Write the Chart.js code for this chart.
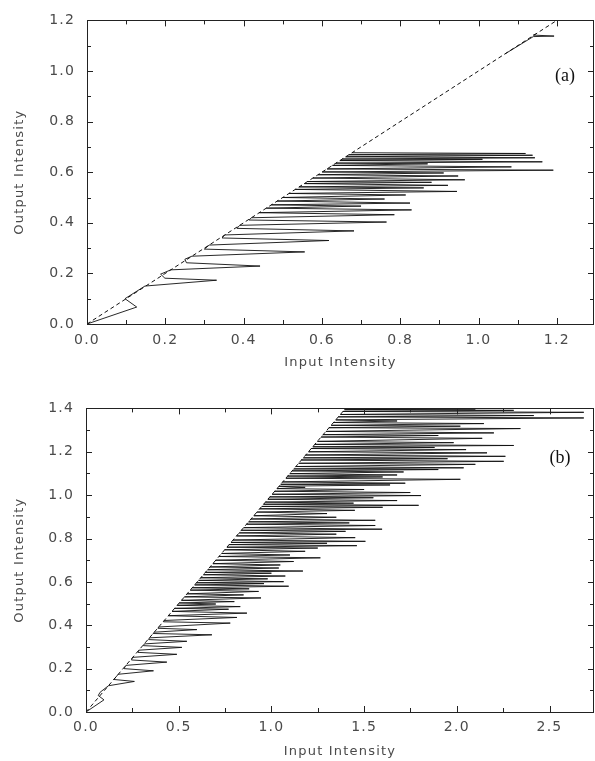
<!DOCTYPE html>
<html>
<head>
<meta charset="utf-8">
<script src="https://cdn.jsdelivr.net/npm/chart.js@4.4.1/dist/chart.umd.min.js"></script>
<style>
  html, body { margin: 0; padding: 0; background: #fff; }
  body { width: 595px; height: 761px; position: relative; overflow: hidden; }
  .panel { position: absolute; left: 0; width: 595px; }
  canvas { display: block; }
</style>
</head>
<body>
<div class="panel" style="top:0px;height:380px;"><canvas id="chartA" width="595" height="380"></canvas></div>
<div class="panel" style="top:388px;height:373px;"><canvas id="chartB" width="595" height="373"></canvas></div>
<script>
// ---------------- Panel (a) data ----------------
const inputA = [
  0, 0.127, 0.097, 0.148,
  0.331, 0.199, 0.188, 0.214,
  0.442, 0.254, 0.250, 0.268,
  0.556, 0.300, 0.312,
  0.618, 0.345, 0.352,
  0.682, 0.383, 0.390,
  0.765, 0.414, 0.420,
  0.785, 0.440, 0.829, 0.458, 0.700, 0.471, 0.825, 0.486,
  0.760, 0.500, 0.814, 0.516, 0.945, 0.532, 0.860, 0.542,
  0.922, 0.555, 0.880, 0.563, 0.965, 0.577, 0.948, 0.590,
  0.911, 0.601, 1.191, 0.613, 1.084, 0.627, 0.870, 0.636,
  1.163, 0.646, 1.010, 0.652, 1.144, 0.661, 1.138, 0.669,
  1.120, 0.677];
const outputA = [
  0, 0.067, 0.100, 0.150,
  0.173, 0.181, 0.197, 0.214,
  0.229, 0.242, 0.256, 0.268,
  0.285, 0.296, 0.312,
  0.330, 0.340, 0.352,
  0.368, 0.378, 0.390,
  0.403, 0.411, 0.420,
  0.432, 0.440, 0.451, 0.458, 0.466, 0.471, 0.478, 0.486,
  0.494, 0.500, 0.510, 0.516, 0.524, 0.532, 0.538, 0.542,
  0.548, 0.555, 0.560, 0.563, 0.570, 0.577, 0.585, 0.590,
  0.597, 0.601, 0.608, 0.613, 0.621, 0.627, 0.633, 0.636,
  0.641, 0.646, 0.651, 0.652, 0.657, 0.661, 0.667, 0.669,
  0.674, 0.677];
const inputA2 = [1.067, 1.140, 1.193, 1.140, 1.146];
const outputA2 = [1.067, 1.136, 1.138, 1.142, 1.146];
const diagInputA = [0, 1.2];
const diagOutputA = [0, 1.2];
const xTicksA = [0.0, 0.2, 0.4, 0.6, 0.8, 1.0, 1.2];
const xMinorA = [0.1, 0.3, 0.5, 0.7, 0.9, 1.1];
const yTicksA = [0.0, 0.2, 0.4, 0.6, 0.8, 1.0, 1.2];
const yMinorA = [0.1, 0.3, 0.5, 0.7, 0.9, 1.1];

// ---------------- Panel (b) data ----------------
const inputB = [
  0, 0.097, 0.066, 0.076, 0.121,
  0.261, 0.150, 0.174,
  0.364, 0.205, 0.215,
  0.436, 0.245, 0.252,
  0.490, 0.280, 0.285,
  0.517, 0.310, 0.314,
  0.544, 0.338, 0.342,
  0.679, 0.362, 0.368,
  0.598, 0.388, 0.392,
  0.778, 0.418, 0.422,
  0.814, 0.444, 0.868, 0.464, 0.769, 0.478, 0.832, 0.492,
  0.700, 0.503, 0.800, 0.515, 0.944, 0.531, 0.850, 0.545,
  0.931, 0.562, 0.880, 0.573, 1.093, 0.586, 0.960, 0.596,
  1.066, 0.607, 0.980, 0.619, 1.075, 0.633, 1.000, 0.644,
  1.170, 0.656, 1.040, 0.669, 1.048, 0.684, 1.120, 0.700,
  1.264, 0.717, 1.100, 0.731, 1.182, 0.748, 1.250, 0.760,
  1.461, 0.772, 1.300, 0.782, 1.507, 0.793, 1.452, 0.812,
  1.350, 0.826, 1.400, 0.838, 1.597, 0.850, 1.560, 0.866,
  1.420, 0.877, 1.560, 0.890, 1.350, 0.905, 1.300, 0.922,
  1.450, 0.937, 1.600, 0.948, 1.794, 0.958, 1.443, 0.968,
  1.678, 0.981, 1.550, 0.992, 1.807, 1.004, 1.749, 1.018,
  1.500, 1.030, 1.182, 1.041, 1.640, 1.050, 1.722, 1.061,
  2.019, 1.078, 1.600, 1.088, 1.678, 1.099, 1.713, 1.112,
  1.900, 1.121, 2.037, 1.132, 2.100, 1.147, 2.253, 1.162,
  1.950, 1.172, 2.262, 1.185, 2.163, 1.200, 2.050, 1.215,
  1.880, 1.223, 2.307, 1.234, 1.983, 1.248, 2.137, 1.268,
  1.900, 1.279, 2.200, 1.294, 2.343, 1.311, 2.019, 1.322,
  2.146, 1.335, 1.678, 1.347, 2.685, 1.361, 2.415, 1.372,
  2.685, 1.386, 2.307, 1.394, 2.100, 1.398];
const outputB = [
  0, 0.056, 0.076, 0.091, 0.121,
  0.141, 0.150, 0.174,
  0.190, 0.200, 0.215,
  0.230, 0.240, 0.252,
  0.266, 0.275, 0.285,
  0.298, 0.306, 0.314,
  0.326, 0.334, 0.342,
  0.356, 0.362, 0.368,
  0.380, 0.386, 0.392,
  0.410, 0.416, 0.422,
  0.436, 0.444, 0.456, 0.464, 0.474, 0.478, 0.486, 0.492,
  0.498, 0.503, 0.509, 0.515, 0.526, 0.531, 0.540, 0.545,
  0.556, 0.562, 0.568, 0.573, 0.580, 0.586, 0.592, 0.596,
  0.601, 0.607, 0.614, 0.619, 0.627, 0.633, 0.640, 0.644,
  0.650, 0.656, 0.664, 0.669, 0.678, 0.684, 0.694, 0.700,
  0.711, 0.717, 0.724, 0.731, 0.741, 0.748, 0.756, 0.760,
  0.767, 0.772, 0.778, 0.782, 0.787, 0.793, 0.804, 0.812,
  0.820, 0.826, 0.833, 0.838, 0.843, 0.850, 0.860, 0.866,
  0.872, 0.877, 0.884, 0.890, 0.898, 0.905, 0.915, 0.922,
  0.930, 0.937, 0.944, 0.948, 0.953, 0.958, 0.963, 0.968,
  0.975, 0.981, 0.988, 0.992, 0.998, 1.004, 1.012, 1.018,
  1.026, 1.030, 1.036, 1.041, 1.047, 1.050, 1.055, 1.061,
  1.073, 1.078, 1.084, 1.088, 1.093, 1.099, 1.107, 1.112,
  1.118, 1.121, 1.126, 1.132, 1.142, 1.147, 1.156, 1.162,
  1.168, 1.172, 1.179, 1.185, 1.195, 1.200, 1.210, 1.215,
  1.220, 1.223, 1.229, 1.234, 1.242, 1.248, 1.262, 1.268,
  1.275, 1.279, 1.287, 1.294, 1.307, 1.311, 1.318, 1.322,
  1.330, 1.335, 1.342, 1.347, 1.356, 1.361, 1.367, 1.372,
  1.382, 1.386, 1.391, 1.394, 1.397, 1.398];
const diagInputB = [0, 1.4];
const diagOutputB = [0, 1.4];
const xTicksB = [0.0, 0.5, 1.0, 1.5, 2.0, 2.5];
const xMinorB = [0.25, 0.75, 1.25, 1.75, 2.25];
const yTicksB = [0.0, 0.2, 0.4, 0.6, 0.8, 1.0, 1.2, 1.4];
const yMinorB = [0.1, 0.3, 0.5, 0.7, 0.9, 1.1, 1.3];

// ---------------- helpers ----------------
const toPts = (xs, ys) => xs.map((x, i) => ({ x: x, y: ys[i] }));
const SANS = "'DejaVu Sans', 'Liberation Sans', sans-serif";
const TXT = '#4a4a4a';

const framePlugin = {
  id: 'frame',
  beforeDraw(chart) { chart.ctx.letterSpacing = '1.2px'; },
  afterDraw(chart, args, opts) {
    const ctx = chart.ctx, a = chart.chartArea;
    const sx = chart.scales.x, sy = chart.scales.y;
    ctx.save();
    ctx.letterSpacing = '0px';
    ctx.strokeStyle = '#222';
    ctx.lineWidth = 1;
    ctx.strokeRect(Math.round(a.left) + 0.5, Math.round(a.top) + 0.5,
      Math.round(a.right - a.left) - 1, Math.round(a.bottom - a.top));
    const tick = (vals, len, horiz) => {
      vals.forEach(v => {
        if (horiz) {
          const p = Math.round(sx.getPixelForValue(v)) + 0.5;
          ctx.beginPath();
          ctx.moveTo(p, a.bottom); ctx.lineTo(p, a.bottom - len);
          ctx.moveTo(p, a.top); ctx.lineTo(p, a.top + len);
          ctx.stroke();
        } else {
          const p = Math.round(sy.getPixelForValue(v)) + 0.5;
          ctx.beginPath();
          ctx.moveTo(a.left, p); ctx.lineTo(a.left + len, p);
          ctx.moveTo(a.right, p); ctx.lineTo(a.right - len, p);
          ctx.stroke();
        }
      });
    };
    tick(opts.xMajor, 6, true); tick(opts.xMinor, 4, true);
    tick(opts.yMajor, 6, false); tick(opts.yMinor, 4, false);
    ctx.fillStyle = '#111';
    ctx.font = "18px 'Liberation Serif', 'DejaVu Serif', serif";
    ctx.textAlign = 'center';
    ctx.textBaseline = 'middle';
    ctx.fillText(opts.label, a.right - opts.lx, a.top + opts.ly);
    ctx.restore();
  }
};

function makeChart(id, cfg) {
  return new Chart(document.getElementById(id), {
    type: 'scatter',
    data: {
      datasets: cfg.lines.map(l => ({
        data: l.data,
        showLine: true,
        borderColor: '#111',
        borderWidth: l.dash ? 1 : 0.9,
        borderDash: l.dash ? [4, 3] : [],
        pointRadius: 0,
        pointHoverRadius: 0,
        tension: 0,
        spanGaps: false
      }))
    },
    options: {
      responsive: false,
      animation: false,
      devicePixelRatio: 1,
      layout: { padding: { top: 15, right: 1, left: 0, bottom: 0 } },
      plugins: {
        legend: { display: false },
        tooltip: { enabled: false },
        frame: cfg.frame
      },
      scales: {
        x: {
          type: 'linear', min: 0, max: cfg.xMax,
          grid: { display: false, drawTicks: false },
          border: { display: false },
          ticks: {
            padding: cfg.xTickPad, color: TXT, autoSkip: false, maxRotation: 0,
            font: { family: SANS, size: 14 },
            callback: v => Number(v).toFixed(1)
          },
          afterBuildTicks: s => { s.ticks = cfg.xTicks.map(v => ({ value: v })); },
          afterFit: s => { s.height = cfg.xAxisH; },
          title: {
            display: true, text: 'Input Intensity', color: TXT,
            font: { family: SANS, size: 13 },
            padding: { top: 0, bottom: cfg.xTitlePad }
          }
        },
        y: {
          type: 'linear', min: 0, max: cfg.yMax,
          grid: { display: false, drawTicks: false },
          border: { display: false },
          ticks: {
            padding: 12, color: TXT, autoSkip: false,
            font: { family: SANS, size: 14 },
            callback: v => Number(v).toFixed(1)
          },
          afterBuildTicks: s => { s.ticks = cfg.yTicks.map(v => ({ value: v })); },
          afterFit: s => { s.width = cfg.yAxisW; },
          title: {
            display: true, text: 'Output Intensity', color: TXT,
            font: { family: SANS, size: 13 },
            padding: { top: 12, bottom: 0 }
          }
        }
      }
    },
    plugins: [framePlugin]
  });
}

makeChart('chartA', {
  lines: [
    { data: toPts(diagInputA, diagOutputA), dash: true },
    { data: toPts(inputA, outputA) },
    { data: toPts(inputA2, outputA2) }
  ],
  xMax: 1.295, yMax: 1.2,
  xTicks: xTicksA, yTicks: yTicksA,
  xAxisH: 56, yAxisW: 87, xTickPad: 8, xTitlePad: 10,
  frame: { xMajor: xTicksA, xMinor: xMinorA, yMajor: yTicksA, yMinor: yMinorA, label: '(a)', lx: 29, ly: 56 }
});

makeChart('chartB', {
  lines: [
    { data: toPts(diagInputB, diagOutputB), dash: true },
    { data: toPts(inputB, outputB) }
  ],
  xMax: 2.74, yMax: 1.4,
  xTicks: xTicksB, yTicks: yTicksB,
  xAxisH: 49, yAxisW: 86, xTickPad: 7, xTitlePad: 2,
  frame: { xMajor: xTicksB, xMinor: xMinorB, yMajor: yTicksB, yMinor: yMinorB, label: '(b)', lx: 34, ly: 50 }
});
</script>
</body>
</html>
